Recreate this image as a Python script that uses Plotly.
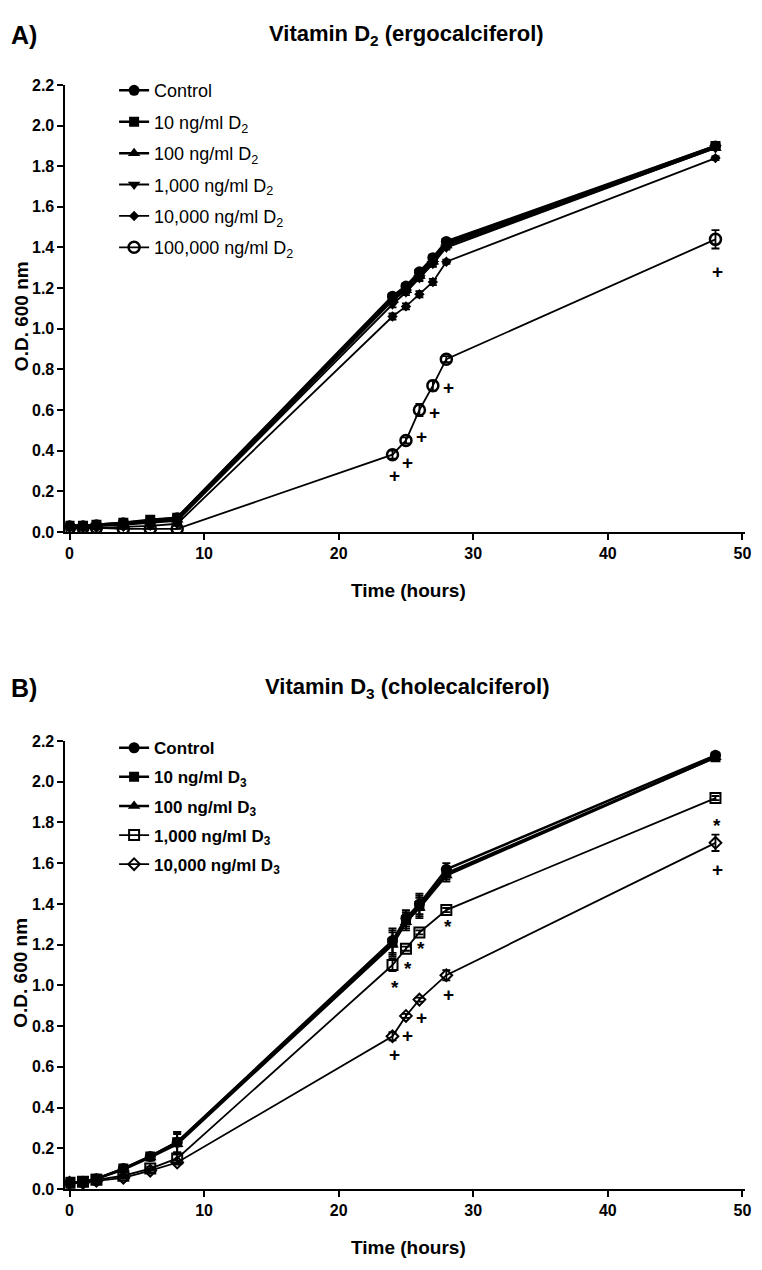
import plotly.graph_objects as go

# ---------------- data ----------------
time_A = [0, 1, 2, 4, 6, 8, 24, 25, 26, 27, 28, 48]
time_B = [0, 1, 2, 4, 6, 8, 24, 25, 26, 28, 48]

# Panel A: Vitamin D2
a_control = [0.03, 0.03, 0.035, 0.045, 0.055, 0.07, 1.16, 1.21, 1.28, 1.35, 1.43, 1.90]
a_10 = [0.03, 0.03, 0.035, 0.045, 0.06, 0.07, 1.15, 1.20, 1.27, 1.34, 1.42, 1.90]
a_100 = [0.03, 0.03, 0.03, 0.04, 0.05, 0.06, 1.14, 1.19, 1.26, 1.33, 1.41, 1.89]
a_1000 = [0.025, 0.025, 0.03, 0.035, 0.045, 0.055, 1.12, 1.18, 1.25, 1.32, 1.40, 1.89]
a_10000 = [0.02, 0.02, 0.02, 0.025, 0.03, 0.04, 1.06, 1.11, 1.17, 1.23, 1.33, 1.84]
a_100000 = [0.02, 0.02, 0.02, 0.015, 0.015, 0.015, 0.38, 0.45, 0.60, 0.72, 0.85, 1.44]
a_100000_err = [0, 0, 0, 0, 0, 0, 0.02, 0.015, 0.03, 0.025, 0.015, 0.045]
a_small_err = [0.005, 0.005, 0.005, 0.005, 0.005, 0.01, 0.015, 0.015, 0.015, 0.015, 0.01, 0.01]

a_plus_x = [24, 25, 26, 27, 28, 48]
a_plus_y = [0.28, 0.34, 0.47, 0.59, 0.71, 1.28]

# Panel B: Vitamin D3
b_control = [0.03, 0.035, 0.05, 0.10, 0.16, 0.23, 1.22, 1.33, 1.40, 1.57, 2.13]
b_10 = [0.03, 0.035, 0.05, 0.10, 0.16, 0.23, 1.21, 1.32, 1.39, 1.55, 2.12]
b_100 = [0.03, 0.035, 0.05, 0.095, 0.155, 0.22, 1.20, 1.31, 1.38, 1.54, 2.12]
b_1000 = [0.03, 0.035, 0.045, 0.065, 0.10, 0.15, 1.10, 1.18, 1.26, 1.37, 1.92]
b_10000 = [0.03, 0.03, 0.04, 0.055, 0.09, 0.13, 0.75, 0.85, 0.93, 1.05, 1.70]
b_control_err = [0.005, 0.005, 0.01, 0.01, 0.015, 0.05, 0.06, 0.04, 0.05, 0.03, 0.015]
b_1000_err = [0.005, 0.005, 0.005, 0.005, 0.01, 0.02, 0.03, 0.01, 0.01, 0.01, 0.01]
b_10000_err = [0.005, 0.005, 0.005, 0.005, 0.01, 0.01, 0.02, 0.01, 0.01, 0.025, 0.04]

b_star_x = [24, 25, 26, 28, 48]
b_star_y = [0.99, 1.085, 1.18, 1.29, 1.785]
b_plus_x = [24, 25, 26, 28, 48]
b_plus_y = [0.66, 0.755, 0.84, 0.955, 1.57]

x_ticks = [0, 10, 20, 30, 40, 50]
y_ticks = [0.0, 0.2, 0.4, 0.6, 0.8, 1.0, 1.2, 1.4, 1.6, 1.8, 2.0, 2.2]

# ---------------- layout geometry ----------------
W, H = 762, 1270
FONT = "Liberation Sans"


def py(px):
    return 1 - px / H


def px_(x):
    return x / W


fig = go.Figure()

series_A = [
    ("Control", a_control, "circle", 11, a_small_err, 2.5, None),
    ("10 ng/ml D<sub>2</sub>", a_10, "square", 10, a_small_err, 2.5, None),
    ("100 ng/ml D<sub>2</sub>", a_100, "triangle-up", 11, a_small_err, 2.5, None),
    ("1,000 ng/ml D<sub>2</sub>", a_1000, "triangle-down", 11, a_small_err, 2, None),
    ("10,000 ng/ml D<sub>2</sub>", a_10000, "diamond", 8, a_small_err, 1.8, None),
    ("100,000 ng/ml D<sub>2</sub>", a_100000, "circle-open", 11, a_100000_err, 1.8, "open"),
]

for name, ys, sym, size, err, lw, kind in series_A:
    fig.add_trace(go.Scatter(
        x=time_A, y=ys, name=name, mode="lines+markers",
        xaxis="x", yaxis="y", legend="legend", legendgroup=name,
        line=dict(color="black", width=lw),
        marker=dict(symbol=sym, size=size, color="black",
                    line=dict(color="black", width=2.5 if kind == "open" else 0)),
        error_y=dict(type="data", array=err, color="black", thickness=1.8, width=4),
    ))

series_B = [
    ("Control", b_control, "circle", 11, b_control_err, 2.5, None),
    ("10 ng/ml D<sub>3</sub>", b_10, "square", 10, b_control_err, 2.5, None),
    ("100 ng/ml D<sub>3</sub>", b_100, "triangle-up", 11, b_control_err, 2.5, None),
    ("1,000 ng/ml D<sub>3</sub>", b_1000, "square-open", 10, b_1000_err, 1.8, "open"),
    ("10,000 ng/ml D<sub>3</sub>", b_10000, "diamond-open", 9, b_10000_err, 1.8, "open"),
]

for name, ys, sym, size, err, lw, kind in series_B:
    fig.add_trace(go.Scatter(
        x=time_B, y=ys, name=name, mode="lines+markers",
        xaxis="x2", yaxis="y2", legend="legend2", legendgroup="B" + name,
        line=dict(color="black", width=lw),
        marker=dict(symbol=sym, size=size, color="black",
                    line=dict(color="black", width=2 if kind == "open" else 0)),
        error_y=dict(type="data", array=err, color="black", thickness=1.8, width=4),
    ))

# significance marks
annots = []
for x, y in zip(a_plus_x, a_plus_y):
    annots.append(dict(x=x, y=y, xref="x", yref="y", text="<b>+</b>", showarrow=False,
                       xshift=2, font=dict(family=FONT, size=19, color="black")))
for x, y in zip(b_star_x, b_star_y):
    annots.append(dict(x=x, y=y, xref="x2", yref="y2", text="<b>*</b>", showarrow=False,
                       xshift=2, font=dict(family=FONT, size=19, color="black")))
for x, y in zip(b_plus_x, b_plus_y):
    annots.append(dict(x=x, y=y, xref="x2", yref="y2", text="<b>+</b>", showarrow=False,
                       xshift=2, font=dict(family=FONT, size=19, color="black")))

# panel labels & titles
A_TOP, A_BOT = 78, 531
B_TOP, B_BOT = 743, 1197
X_LEFT, X_RIGHT = 66, 751
A_TITLE_Y, B_TITLE_Y = 27, 689

for lbl, yy in [("A)", A_TITLE_Y), ("B)", B_TITLE_Y)]:
    annots.append(dict(x=px_(9), y=py(yy), xref="paper", yref="paper", xanchor="left",
                       yanchor="middle", text="<b>%s</b>" % lbl, showarrow=False,
                       font=dict(family=FONT, size=25, color="black")))
for t, yy in [("Vitamin D<sub>2</sub> (ergocalciferol)", A_TITLE_Y),
              ("Vitamin D<sub>3</sub> (cholecalciferol)", B_TITLE_Y)]:
    annots.append(dict(x=px_(410), y=py(yy), xref="paper", yref="paper", xanchor="center",
                       yanchor="middle", text="<b>%s</b>" % t, showarrow=False,
                       font=dict(family=FONT, size=22, color="black")))
for top, bot in [(A_TOP, A_BOT), (B_TOP, B_BOT)]:
    annots.append(dict(x=px_(21), y=py((top + bot) / 2 + 8), xref="paper", yref="paper",
                       xanchor="center", yanchor="middle", textangle=-90,
                       text="<b>O.D. 600 nm</b>", showarrow=False,
                       font=dict(family=FONT, size=19, color="black")))
    annots.append(dict(x=px_(412), y=py(bot + 59), xref="paper", yref="paper",
                       xanchor="center", yanchor="middle",
                       text="<b>Time (hours)</b>", showarrow=False,
                       font=dict(family=FONT, size=19, color="black")))

axis_common = dict(showline=True, linecolor="black", linewidth=2, ticks="outside",
                   ticklen=6, tickwidth=2, tickcolor="black", showgrid=False,
                   zeroline=False, tickfont=dict(family=FONT, size=16, color="black",
                                                 weight="bold"))

fig.update_layout(
    width=W, height=H, margin=dict(l=0, r=0, t=0, b=0),
    paper_bgcolor="white", plot_bgcolor="white",
    font=dict(family=FONT, color="black"),
    xaxis=dict(domain=[px_(X_LEFT), px_(X_RIGHT)], range=[-0.3, 50.2], anchor="y",
               tickvals=x_ticks, **axis_common),
    yaxis=dict(domain=[py(A_BOT), py(A_TOP)], range=[0, 2.2], anchor="x",
               tickvals=y_ticks, tickformat=".1f", **axis_common),
    xaxis2=dict(domain=[px_(X_LEFT), px_(X_RIGHT)], range=[-0.3, 50.2], anchor="y2",
                tickvals=x_ticks, **axis_common),
    yaxis2=dict(domain=[py(B_BOT), py(B_TOP)], range=[0, 2.2], anchor="x2",
                tickvals=y_ticks, tickformat=".1f", **axis_common),
    legend=dict(x=px_(115), y=py(65), xanchor="left", yanchor="top",
                bgcolor="rgba(0,0,0,0)", tracegroupgap=5,
                font=dict(family=FONT, size=18, color="black")),
    legend2=dict(x=px_(115), y=py(732), xanchor="left", yanchor="top",
                 bgcolor="rgba(0,0,0,0)", tracegroupgap=4,
                 font=dict(family=FONT, size=17, color="black", weight="bold")),
    annotations=annots,
    showlegend=True,
)

fig.write_html("out.html")
